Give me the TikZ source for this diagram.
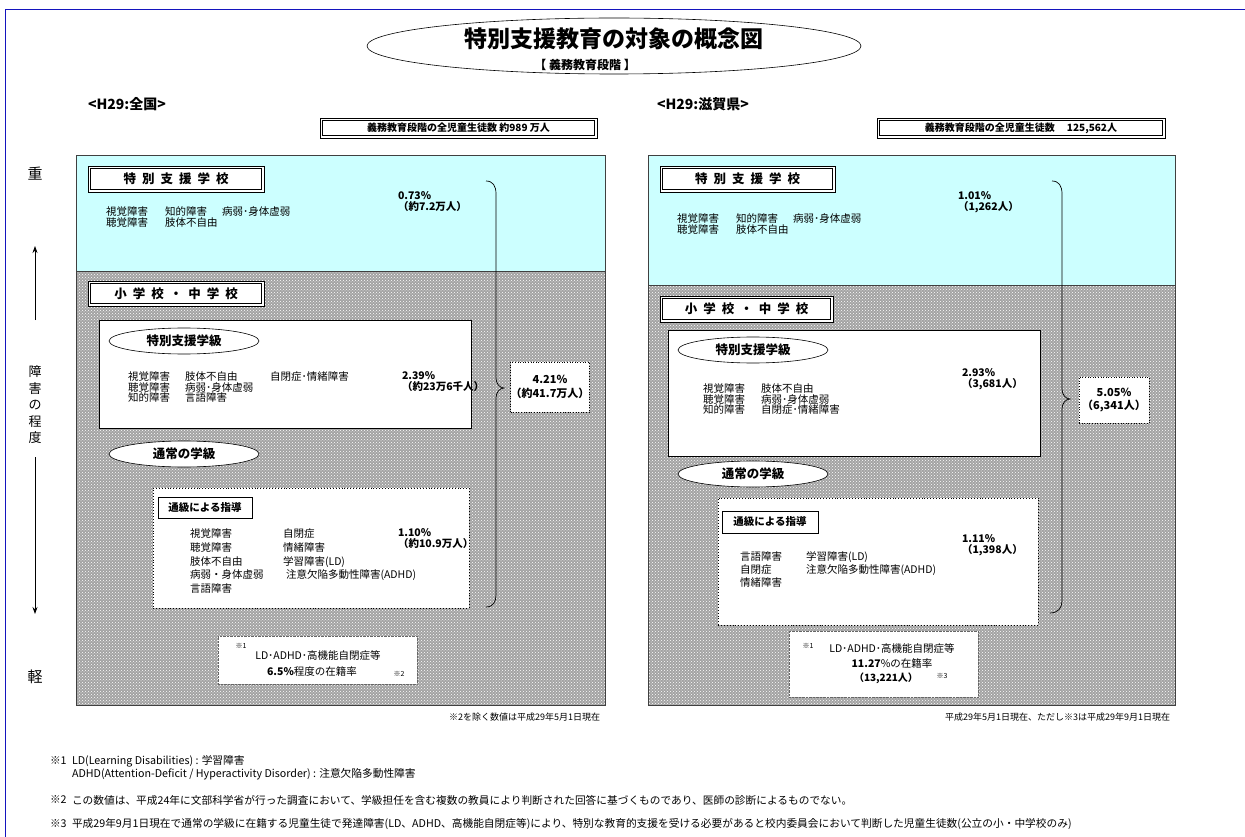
\documentclass[tikz,border=0pt]{standalone}
\usepackage{fontspec}
\setmainfont{Noto Sans CJK JP}
\usetikzlibrary{patterns,shapes.geometric,arrows.meta}
\definecolor{cyanbg}{RGB}{204,255,255}
\definecolor{frameblue}{RGB}{20,20,190}
\newcommand{\fs}[1]{\fontsize{#1}{#1}\selectfont}
\newcommand{\innerframe}[1]{\draw[line width=1.1pt] ([shift={(2.6,2.6)}]#1.north west) rectangle ([shift={(-2.6,-2.6)}]#1.south east);}
\begin{document}
\begin{tikzpicture}[x=1pt,y=-1pt,
  every node/.style={inner sep=0pt, outer sep=0pt, font=\fs{10.5}},
  dblbox/.style={draw=black, line width=0.5pt, fill=white, font=\bfseries\fs{12.5}},
  cntbox/.style={draw=black, line width=0.5pt, fill=white, font=\bfseries\fs{10}},
  whitebox/.style={draw=black, line width=0.6pt, fill=white},
  dotbox/.style={draw=black, dotted, line width=0.9pt, fill=white},
  notebox/.style={draw=black!60, densely dotted, line width=0.4pt, fill=white},
  oval/.style={ellipse, draw=black, line width=0.6pt, fill=white, minimum width=150pt, minimum height=26pt, font=\bfseries\fs{12.5}},
  col/.style={anchor=north west, align=left, font=\fs{10.5}\linespread{1}\selectfont},
  pct/.style={anchor=north west, align=left, font=\bfseries\fs{10.5}},
  small/.style={font=\fs{7}},
  foot/.style={anchor=west, font=\fs{10.7}},
  bracket/.style={draw=black, line width=0.7pt},
  axisarrow/.style={draw=black, line width=0.8pt, -{Stealth[length=7pt,width=5pt]}}
]
\useasboundingbox (0,0) rectangle (1245,837);
% blue frame
\draw[frameblue, line width=1pt] (5,837) -- (5,10) -- (1245,10);

% title
\node[ellipse, draw=black, line width=0.6pt, minimum width=494pt, minimum height=56pt] (titleoval) at (614,46) {};
\node[font=\bfseries\fs{23}] (title) at (614,39) {特別支援教育の対象の概念図};
\node[font=\bfseries\fs{12}] (subtitle) at (585,65) {【 義務教育段階 】};

% headers
\node[anchor=west, font=\bfseries\fs{14}] (hL) at (88,104) {<H29:全国>};
\node[anchor=west, font=\bfseries\fs{14}] (hR) at (657,104) {<H29:滋賀県>};
\node[cntbox, minimum width=277pt, minimum height=20pt] (cntL) at (458.5,128) {};
\innerframe{cntL}
\node[font=\bfseries\fs{10}] at (cntL) {義務教育段階の全児童生徒数 約989 万人};
\node[cntbox, minimum width=288pt, minimum height=20pt] (cntR) at (1021,128) {};
\innerframe{cntR}
\node[font=\bfseries\fs{10}] at (cntR) {義務教育段階の全児童生徒数\hspace{12pt}125,562人};

% left axis
\node[font=\fs{15}] (heavy) at (35,174) {重};
\node[align=center, font=\fs{13}\linespread{1.27}\selectfont] (degree) at (35,405) {障\\害\\の\\程\\度};
\node[font=\fs{15}] (light) at (35,677) {軽};
\coordinate (upS) at (35,320);
\coordinate (upE) at (35,246);
\coordinate (dnS) at (35,457);
\coordinate (dnE) at (35,614);
\draw[axisarrow] (upS) -- (upE);
\draw[axisarrow] (dnS) -- (dnE);

% ================= LEFT PANEL =================
\fill[cyanbg] (76,155) rectangle (605,271);
\fill[black!36] (76,271) rectangle (605,705);
\fill[pattern=crosshatch dots, pattern color=white] (76,271) rectangle (605,705);
\draw[black!75, line width=0.7pt] (76,155) rectangle (605,705);
\draw[black!75, line width=0.5pt] (76,271) -- (605,271);

\node[dblbox, minimum width=176pt, minimum height=26pt] (schL) at (176,179) {};
\innerframe{schL}
\node[font=\bfseries\fs{12.5}] at (schL) {特\hspace{6pt}別\hspace{6pt}支\hspace{6pt}援\hspace{6pt}学\hspace{6pt}校};
\node[col] (schL1) at (106,207) {視覚障害\\聴覚障害};
\node[col] (schL2) at (165,207) {知的障害\\肢体不自由};
\node[col] (schL3) at (222,207) {病弱･身体虚弱};
\node[pct] (pctL1) at (398,192) {0.73\%\\（約7.2万人）};

\node[dblbox, minimum width=176pt, minimum height=25pt] (elemL) at (176,293.5) {};
\innerframe{elemL}
\node[font=\bfseries\fs{12.5}] at (elemL) {小\hspace{6pt}学\hspace{6pt}校\hspace{6pt}・\hspace{6pt}中\hspace{6pt}学\hspace{6pt}校};

\node[whitebox, minimum width=372pt, minimum height=108pt] (clsL) at (285,374) {};
\node[oval] (ovL1) at (184,341) {特別支援学級};
\node[col] (clsL1) at (128,372) {視覚障害\\聴覚障害\\知的障害};
\node[col] (clsL2) at (185,372) {肢体不自由\\病弱･身体虚弱\\言語障害};
\node[col] (clsL3) at (270,372) {自閉症･情緒障害};
\node[pct] (pctL2) at (402,372) {2.39\%\\（約23万6千人）};

\node[oval] (ovL2) at (184,454) {通常の学級};
\node[dotbox, minimum width=316pt, minimum height=120pt] (tsuL) at (311,548) {};
\node[whitebox, minimum width=94pt, minimum height=21pt, font=\bfseries\fs{10.5}] (tsuLh) at (205,507.5) {通級による指導};
\node[col, font=\fs{10.5}\linespread{1.3}\selectfont] (tsuL1) at (190,529) {視覚障害\\聴覚障害\\肢体不自由\\病弱・身体虚弱\\言語障害};
\node[col, font=\fs{10.5}\linespread{1.3}\selectfont] (tsuL2) at (283,529) {自閉症\\情緒障害\\学習障害(LD)\\\hspace{3pt}注意欠陥多動性障害(ADHD)};
\node[pct] (pctL3) at (398,529) {1.10\%\\（約10.9万人）};

% bracket left
\coordinate (bLt) at (486,181);
\coordinate (bLm) at (504,388);
\coordinate (bLb) at (486,607);
\draw[bracket] (bLt) .. controls (493,181) and (496,186) .. (496,194) -- (496,378)
   .. controls (496,384) and (500,388) .. (bLm) .. controls (500,388) and (496,392) .. (496,398)
   -- (496,595) .. controls (496,602) and (493,607) .. (bLb);
\node[dotbox, line width=0.6pt, minimum width=76pt, minimum height=50pt, align=center, font=\bfseries\fs{11}\linespread{1.25}\selectfont] (totL) at (550,387) {4.21\%\\（約41.7万人）};

\node[notebox, minimum width=199pt, minimum height=48pt] (ldL) at (317.5,660) {};
\node[small] (ldLn1) at (241,646) {※1};
\node[font=\fs{10.5}] (ldL1) at (318,655) {LD･ADHD･高機能自閉症等};
\node[font=\fs{10.5}] (ldL2) at (312,671) {\textbf{6.5\%}程度の在籍率};
\node[small] (ldLn2) at (399,674) {※2};
\node[anchor=east, font=\fs{9}] (noteL) at (600,717) {※2を除く数値は平成29年5月1日現在};

% ================= RIGHT PANEL =================
\fill[cyanbg] (648,155) rectangle (1175,285);
\fill[black!36] (648,285) rectangle (1175,705);
\fill[pattern=crosshatch dots, pattern color=white] (648,285) rectangle (1175,705);
\draw[black!75, line width=0.7pt] (648,155) rectangle (1175,705);
\draw[black!75, line width=0.5pt] (648,285) -- (1175,285);

\node[dblbox, minimum width=175pt, minimum height=26pt] (schR) at (747.5,179) {};
\innerframe{schR}
\node[font=\bfseries\fs{12.5}] at (schR) {特\hspace{6pt}別\hspace{6pt}支\hspace{6pt}援\hspace{6pt}学\hspace{6pt}校};
\node[col] (schR1) at (677,214) {視覚障害\\聴覚障害};
\node[col] (schR2) at (736,214) {知的障害\\肢体不自由};
\node[col] (schR3) at (793,214) {病弱･身体虚弱};
\node[pct] (pctR1) at (958,192) {1.01\%\\（1,262人）};

\node[dblbox, minimum width=173pt, minimum height=26pt] (elemR) at (746.5,309) {};
\innerframe{elemR}
\node[font=\bfseries\fs{12.5}] at (elemR) {小\hspace{6pt}学\hspace{6pt}校\hspace{6pt}・\hspace{6pt}中\hspace{6pt}学\hspace{6pt}校};

\node[whitebox, minimum width=372pt, minimum height=126pt] (clsR) at (854,393) {};
\node[oval] (ovR1) at (753,350) {特別支援学級};
\node[col] (clsR1) at (703,384) {視覚障害\\聴覚障害\\知的障害};
\node[col] (clsR2) at (761,384) {肢体不自由\\病弱･身体虚弱\\自閉症･情緒障害};
\node[pct] (pctR2) at (962,369) {2.93\%\\（3,681人）};

\node[oval] (ovR2) at (753,474) {通常の学級};
\node[dotbox, minimum width=320pt, minimum height=127pt] (tsuR) at (878,561.5) {};
\node[whitebox, minimum width=96pt, minimum height=22pt, font=\bfseries\fs{10.5}] (tsuRh) at (770,522) {通級による指導};
\node[col, font=\fs{10.5}\linespread{1.2}\selectfont] (tsuR1) at (740,552) {言語障害\\自閉症\\情緒障害};
\node[col, font=\fs{10.5}\linespread{1.2}\selectfont] (tsuR2) at (806,552) {学習障害(LD)\\注意欠陥多動性障害(ADHD)};
\node[pct] (pctR3) at (962,535) {1.11\%\\（1,398人）};

% bracket right
\coordinate (bRt) at (1052,181);
\coordinate (bRm) at (1070,399);
\coordinate (bRb) at (1050,613);
\draw[bracket] (bRt) .. controls (1059,181) and (1062,186) .. (1062,194) -- (1062,389)
   .. controls (1062,395) and (1066,399) .. (bRm) .. controls (1066,399) and (1062,403) .. (1062,409)
   -- (1062,601) .. controls (1062,608) and (1058,613) .. (bRb);
\node[dotbox, line width=0.6pt, minimum width=70pt, minimum height=46pt, align=center, font=\bfseries\fs{11}\linespread{1.25}\selectfont] (totR) at (1114,400) {5.05\%\\（6,341人）};

\node[notebox, minimum width=189pt, minimum height=66pt] (ldR) at (883.5,664) {};
\node[small] (ldRn1) at (808,646) {※1};
\node[font=\fs{10.5}] (ldR1) at (892,648) {LD･ADHD･高機能自閉症等};
\node[font=\fs{10.5}] (ldR2) at (892,663) {\textbf{11.27}\%の在籍率};
\node[font=\bfseries\fs{10}] (ldR3) at (886,678) {（13,221人）};
\node[small] (ldRn3) at (942,676) {※3};
\node[anchor=east, font=\fs{9}] (noteR) at (1170,717) {平成29年5月1日現在、ただし※3は平成29年9月1日現在};

% footnotes
\node[foot] (f1a) at (50,761) {※1};
\node[foot] (f1b) at (72,761) {LD(Learning Disabilities) : 学習障害};
\node[foot] (f1c) at (72,774) {ADHD(Attention-Deficit / Hyperactivity Disorder) : 注意欠陥多動性障害};
\node[foot] (f2a) at (50,800) {※2};
\node[foot] (f2b) at (72,800) {この数値は、平成24年に文部科学省が行った調査において、学級担任を含む複数の教員により判断された回答に基づくものであり、医師の診断によるものでない。};
\node[foot] (f3a) at (50,824) {※3};
\node[foot] (f3b) at (72,824) {平成29年9月1日現在で通常の学級に在籍する児童生徒で発達障害(LD、ADHD、高機能自閉症等)により、特別な教育的支援を受ける必要があると校内委員会において判断した児童生徒数(公立の小・中学校のみ)};
\end{tikzpicture}
\end{document}
